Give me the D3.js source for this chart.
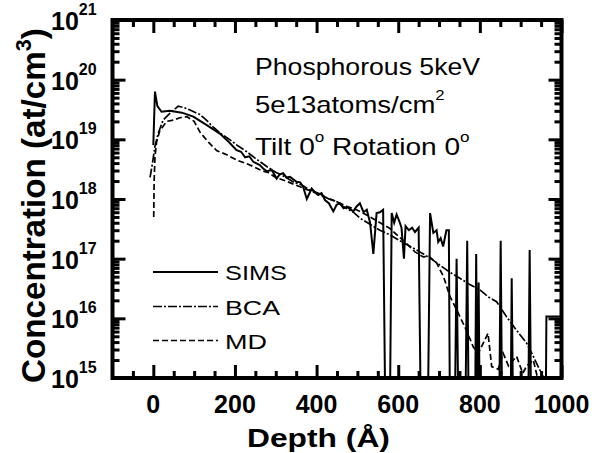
<!DOCTYPE html>
<html>
<head>
<meta charset="utf-8">
<script src="https://cdn.jsdelivr.net/npm/d3@7"></script>
<style>
  body { margin: 0; background: #fff; }
</style>
</head>
<body>
<svg id="chart" width="597" height="453" font-family="Liberation Sans, Arial, sans-serif"></svg>
<script>
// depth (Å), concentration (at/cm3)
var sims = [[0,8e18],[4,6.3e19],[10,3.6e19],[20,2.9e19],[40,3.0e19],[70,2.8e19],[98,2.4e19],[130,1.75e19],[163,1.25e19],[185,9e18],[204,6.6e18],[215,6.2e18],[225,5e18],[235,5.2e18],[245,4.2e18],[261,3.7e18],[270,3.2e18],[278,2.9e18],[290,3.1e18],[302,2.2e18],[310,2.6e18],[318,2.7e18],[326,2.3e18],[335,2.35e18],[351,1.95e18],[360,1.9e18],[367,1.6e18],[376,1.0e18],[388,1.5e18],[396,1.3e18],[404,1.17e18],[412,1.25e18],[421,9.5e17],[430,8.5e17],[441,6.2e17],[449,8e17],[457,8.5e17],[466,7e17],[474,7.4e17],[482,6.8e17],[490,6.2e17],[498,7.5e17],[506,8.5e17],[515,6e17],[523,6.6e17],[531,4e17],[539,1.2e17],[547,5.8e17],[555,6e17],[563,6.6e17],[569,1e14],[579,1e14],[584,5.8e17],[590,4e17],[596,5.5e17],[604,4e17],[608,3.3e17],[614,1e17],[618,3.5e17],[626,3e17],[634,3.3e17],[641,2.8e17],[650,3.3e17],[656,1e14],[672,1e14],[678,5.8e17],[686,2.7e17],[694,3e17],[698,1.9e17],[704,2.2e17],[710,1.6e17],[718,3e17],[724,3e17],[727,1e14],[738,1e14],[743,1e17],[748,1e14],[764,1e14],[769,2e17],[773,1e14],[788,1e14],[791,1.2e17],[794,1e14],[797,4e16],[800,1e14],[847,1e14],[851,2e17],[855,1e14],[875,1e14],[878,4.7e16],[882,1e14],[918,1e14],[922,1.4e17],[926,1e14],[961,1e14],[963,1.07e16],[1000,1.07e16]];

var bca = [[-8,2.3e18],[-2,4e18],[4,7.6e18],[12,1.26e19],[24,2.1e19],[41,2.75e19],[61,3.6e19],[75,3.4e19],[90,3.1e19],[114,2.6e19],[130,2.1e19],[147,1.6e19],[165,1.25e19],[188,9.8e18],[205,8e18],[229,6.2e18],[250,4.8e18],[278,3.5e18],[300,2.8e18],[320,2.4e18],[345,1.9e18],[365,1.7e18],[384,1.4e18],[405,1.25e18],[430,1e18],[450,9e17],[465,7.5e17],[490,6e17],[506,4.8e17],[530,3.8e17],[555,3e17],[580,2.5e17],[604,2e17],[630,1.6e17],[653,1.3e17],[680,1e17],[702,7.8e16],[725,6e16],[751,4.7e16],[775,3.7e16],[800,3e16],[820,2.3e16],[841,1.9e16],[865,1.07e16],[890,6.3e15],[915,3.8e15],[931,2.3e15],[947,1.35e15],[960,9e14]];

var md = [[1,5e17],[2,2e18],[4,5e18],[8,9e18],[16,1.4e19],[33,2e19],[49,2.1e19],[65,2.3e19],[82,2.4e19],[100,2.0e19],[115,1.3e19],[135,9e18],[155,6.5e18],[180,5.5e18],[204,4.5e18],[225,4e18],[245,3.5e18],[265,3e18],[280,2.8e18],[300,2.3e18],[325,2e18],[350,1.7e18],[375,1.45e18],[400,1.25e18],[425,1.05e18],[450,9e17],[475,7.5e17],[500,6.5e17],[525,5.3e17],[550,4.2e17],[580,3.2e17],[600,2.4e17],[613,2e17],[641,1.3e17],[661,1.07e17],[675,1.1e17],[694,8.5e16],[711,5e16],[727,2.3e16],[743,1.4e16],[767,6.3e15],[784,3.3e15],[796,2.6e15],[808,3.8e15],[820,5.6e15],[829,1.55e15],[845,1.4e15],[857,2.6e15],[870,1.6e15],[890,2.3e15],[905,1.2e15],[915,1.6e15],[931,2e15],[940,1.1e15],[950,9e14]];

var xMajor = [0, 200, 400, 600, 800, 1000];
var xMinor = [-50, 50, 100, 150, 250, 300, 350, 450, 500, 550, 650, 700, 750, 850, 900, 950];
var yExp = [15, 16, 17, 18, 19, 20, 21];
var notes = ["Phosphorous 5keV", "5e13atoms/cm", "Tilt 0", " Rotation 0"];
var legendNames = ["SIMS", "BCA", "MD"];

var svg = d3.select("#chart");
var x = d3.scaleLinear().domain([-100, 1000]).range([112.5, 561.5]);
var y = d3.scaleLog().domain([1e15, 1e21]).range([378, 20]);

var yMajor = yExp.map(function (e) { return Math.pow(10, e); });
var yMinor = [];
yExp.slice(0, -1).forEach(function (e) {
    for (var k = 2; k < 10; k++) yMinor.push(k * Math.pow(10, e));
});

// clip for the curves
svg.append("clipPath").attr("id", "plotClip").append("rect")
    .attr("x", 112.5).attr("y", 20).attr("width", 449).attr("height", 358);

var line = d3.line()
    .x(function (d) { return x(d[0]); })
    .y(function (d) { return y(d[1]); });

var series = [
    { data: md, dash: "6,3", width: 1.7 },
    { data: bca, dash: "9,2,2,2", width: 1.7 },
    { data: sims, dash: null, width: 2 }
];
var curves = svg.append("g").attr("clip-path", "url(#plotClip)");
series.forEach(function (s) {
    curves.append("path")
        .datum(s.data)
        .attr("d", line)
        .attr("fill", "none")
        .attr("stroke", "#000")
        .attr("stroke-width", s.width)
        .attr("stroke-dasharray", s.dash)
        .attr("stroke-linejoin", "miter");
});

// axes: ticks inward on all four sides
function styleAxis(g) {
    g.select(".domain").remove();
    g.selectAll(".tick line").attr("stroke", "#000").attr("stroke-width", 3);
    g.selectAll(".tick text").remove();
}
function addAxis(axisFn, scale, vals, size, tr) {
    svg.append("g").attr("transform", tr)
        .call(axisFn(scale).tickValues(vals).tickSize(-size))
        .call(styleAxis);
}
addAxis(d3.axisBottom, x, xMajor, 13, "translate(0,378)");
addAxis(d3.axisBottom, x, xMinor, 7, "translate(0,378)");
addAxis(d3.axisTop, x, xMajor, 13, "translate(0,20)");
addAxis(d3.axisTop, x, xMinor, 7, "translate(0,20)");
addAxis(d3.axisLeft, y, yMajor, 13, "translate(112.5,0)");
addAxis(d3.axisLeft, y, yMinor, 7, "translate(112.5,0)");
addAxis(d3.axisRight, y, yMajor, 13, "translate(561.5,0)");
addAxis(d3.axisRight, y, yMinor, 7, "translate(561.5,0)");

// frame
svg.append("rect")
    .attr("x", 112.5).attr("y", 20).attr("width", 449).attr("height", 358)
    .attr("fill", "none").attr("stroke", "#000").attr("stroke-width", 4);

// tick labels
svg.append("g").selectAll("text").data(xMajor).enter()
    .append("text")
    .attr("x", function (d) { return x(d); })
    .attr("y", 413)
    .attr("text-anchor", "middle")
    .attr("font-size", "25px")
    .attr("font-weight", "bold")
    .text(function (d) { return d; });

var yl = svg.append("g").selectAll("text").data(yExp).enter()
    .append("text")
    .attr("x", 51)
    .attr("y", function (d) { return y(Math.pow(10, d)) + 10; })
    .attr("font-size", "25px")
    .attr("font-weight", "bold");
yl.append("tspan").text("10");
yl.append("tspan").attr("dy", -15).attr("font-size", "16px").text(function (d) { return d; });

// stretch a text horizontally to a target width
function fit(g, w) {
    var bb = g.node().getBBox();
    var t = g.attr("data-t");
    g.attr("transform", t + " scale(" + (w / bb.width) + ",1)");
}
function placed(tx, ty) {
    return svg.append("g").attr("data-t", "translate(" + tx + "," + ty + ")")
        .attr("transform", "translate(" + tx + "," + ty + ")");
}

// axis titles
var xt = placed(247, 447);
xt.append("text").attr("font-size", "26px").attr("font-weight", "bold").text("Depth (Å)");
fit(xt, 143);

var ytG = svg.append("g").attr("transform", "translate(45,383) rotate(-90)");
var yt = ytG.append("text").attr("font-size", "34px").attr("font-weight", "bold");
yt.append("tspan").text("Concentration (at/cm");
yt.append("tspan").attr("dy", -14).attr("font-size", "22px").text("3");
yt.append("tspan").attr("dy", 14).text(")");
ytG.attr("transform", "translate(45,383) rotate(-90) scale(" + (355 / yt.node().getBBox().width) + ",1)");

// annotation
var n1 = placed(255, 75);
n1.append("text").attr("font-size", "23px").text(notes[0]);
fit(n1, 226);

var n2 = placed(255, 113);
var t2 = n2.append("text").attr("font-size", "23px");
t2.append("tspan").text(notes[1]);
t2.append("tspan").attr("dy", -13).attr("font-size", "14px").text("2");
fit(n2, 190);

var n3 = placed(255, 155);
var t3 = n3.append("text").attr("font-size", "23px");
t3.append("tspan").text(notes[2]);
t3.append("tspan").attr("dy", -13).attr("font-size", "14px").text("o");
t3.append("tspan").attr("dy", 13).text(notes[3]);
t3.append("tspan").attr("dy", -13).attr("font-size", "14px").text("o");
fit(n3, 215);

// legend
var legY = [272, 306.5, 340.5];
var legDash = [null, "9,2,2,2", "6,3"];
var legW = [62, 55, 42];
legendNames.forEach(function (name, i) {
    svg.append("line")
        .attr("x1", 153).attr("x2", 218)
        .attr("y1", legY[i]).attr("y2", legY[i])
        .attr("stroke", "#000")
        .attr("stroke-width", i === 0 ? 2 : 1.7)
        .attr("stroke-dasharray", legDash[i]);
    var g = placed(225, legY[i] + 8);
    g.append("text").attr("font-size", "21px").text(name);
    fit(g, legW[i]);
});
</script>
</body>
</html>
